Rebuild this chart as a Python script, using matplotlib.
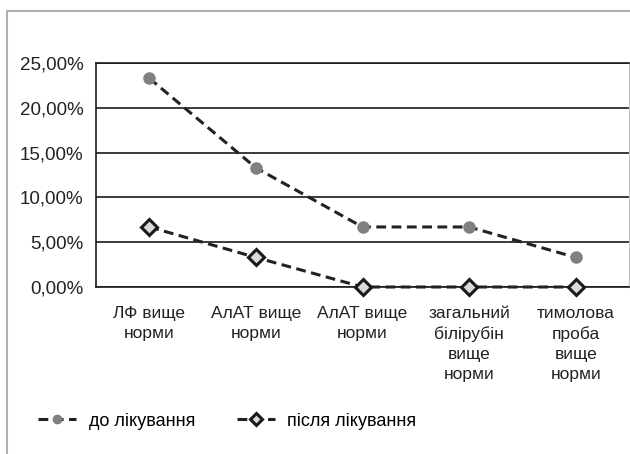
import matplotlib.pyplot as plt
from matplotlib.patches import Rectangle

plt.rcParams['font.family'] = ['Liberation Sans', 'DejaVu Sans']

# data
categories = ["ЛФ вище\nнорми", "АлАТ вище\nнорми", "АлАТ вище\nнорми",
              "загальний\nбілірубін\nвище\nнорми", "тимолова\nпроба\nвище\nнорми"]
before = [23.3, 13.3, 6.7, 6.7, 3.3]
after = [6.7, 3.3, 0.0, 0.0, 0.0]
yticks = [0, 5, 10, 15, 20, 25]

fig = plt.figure(figsize=(6.30, 4.54), dpi=100)

# outer chart frame
fig.patches.append(Rectangle((7 / 630, -0.1), 1.2, 1 - 11 / 454 + 0.1,
                             transform=fig.transFigure, fill=False,
                             edgecolor="#b0b0b0", linewidth=1.5))

ax = fig.add_axes([96 / 630, 1 - 287 / 454, 533 / 630, 224 / 454])
x = range(len(categories))

ax.plot(x, before, linestyle=(0, (3.2, 1.8)), color="#222222", linewidth=2.2,
        marker="o", markersize=8, markerfacecolor="#808080",
        markeredgecolor="#808080", label="до лікування", zorder=3)
ax.plot(x, after, linestyle=(0, (3.2, 1.8)), color="#222222", linewidth=2.2,
        marker="D", markersize=8, markerfacecolor="#d9d9d9",
        markeredgecolor="#1a1a1a", markeredgewidth=2.2,
        label="після лікування", zorder=4, clip_on=False)

ax.set_xlim(-0.5, len(categories) - 0.5)
ax.set_ylim(0, 25)
ax.set_yticks(yticks)
ax.set_yticklabels([f"{v:.2f}%".replace(".", ",") for v in yticks], fontsize=13.5)
ax.set_xticks(list(x))
ax.set_xticklabels(categories, fontsize=12.5, linespacing=1.4, va="top")
ax.tick_params(axis="both", length=0, colors="#222222")
ax.tick_params(axis="y", pad=9)
ax.tick_params(axis="x", pad=14)
ax.yaxis.grid(True, color="#1a1a1a", linewidth=1.2)
ax.set_axisbelow(True)
for side in ["left", "bottom", "top"]:
    ax.spines[side].set_color("#1a1a1a")
    ax.spines[side].set_linewidth(1.2)
ax.spines["right"].set_color("#c0c0c0")

ax.legend(loc="center left", bbox_to_anchor=(22 / 630, 33 / 454),
          bbox_transform=fig.transFigure, ncol=2, frameon=False,
          fontsize=13, handlelength=2.1, columnspacing=2.3, handletextpad=0.7,
          markerscale=0.75)

fig.savefig("out.png", dpi=100)
